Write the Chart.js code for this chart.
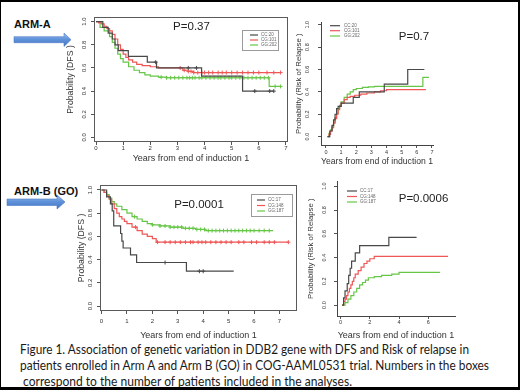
<!DOCTYPE html>
<html>
<head>
<meta charset="utf-8">
<script src="https://cdn.jsdelivr.net/npm/chart.js@4.4.0/dist/chart.umd.min.js"></script>
<style>
  html, body { margin: 0; padding: 0; background: #fff; }
  #page { position: relative; width: 520px; height: 390px; overflow: hidden; background: #fff;
          font-family: "Liberation Sans", Arial, sans-serif; }
  #page canvas { position: absolute; }
  .txt { position: absolute; white-space: nowrap; transform-origin: left center; }
  .arm { font-weight: bold; font-size: 11px; line-height: 13px; color: #111; }
  .pval { font-size: 11.5px; line-height: 14px; color: #222; transform: translate(-50%, -50%); }
  .cap { font-family: Lato, "Open Sans", sans-serif; font-size: 12.5px; line-height: 15px; color: #1a1a1a; }
  #frame { position: absolute; left: 0; top: 0; width: 520px; height: 390px; box-sizing: border-box;
           border: solid #000; border-width: 2px 2px 3px 1px; pointer-events: none; }
</style>
</head>
<body>
<div id="page">
  <svg width="520" height="390" style="position:absolute;left:0;top:0">
    <defs>
      <linearGradient id="blue" x1="0" y1="0" x2="0" y2="1">
        <stop offset="0" stop-color="#a3c4ef"/>
        <stop offset="0.45" stop-color="#5f93da"/>
        <stop offset="1" stop-color="#4676c4"/>
      </linearGradient>
    </defs>
    <polygon points="14,36.7 64,36.7 64,33 71,39.7 64,46.5 64,42.7 14,42.7" fill="url(#blue)" stroke="#4a7bc4" stroke-width="0.6"/>
    <polygon points="7,199 57,199 57,195 65,202 57,209 57,205.5 7,205.5" fill="url(#blue)" stroke="#4a7bc4" stroke-width="0.6"/>
  </svg>
  <div class="txt arm" style="left:14px;top:18px">ARM-A</div>
  <div class="txt arm" style="left:14px;top:185px">ARM-B (GO)</div>
  <div id="frame"></div>
</div>
<script>
// genotype colours and labels
const genotypeColors = ['#484848', '#ef5656', '#66c646'];
const legendArmA = ['CC:20', 'CG:101', 'GG:202'];
const legendArmB = ['CC:17', 'CG:148', 'GG:187'];
const pValues = ['P=0.37', 'P=0.7', 'P=0.0001', 'P=0.0006'];

// tick labels
const yearTicks = [0, 1, 2, 3, 4, 5, 6, 7];
const yearTicksWide = [0, 2, 4, 6];
const probTicks = [0, 0.2, 0.4, 0.6, 0.8, 1.0];

// Arm A, disease free survival
const dfsA_t_CC = [0, 0.25, 0.45, 0.6, 0.7, 0.82, 1.19, 1.89, 2.23, 3.89, 5.4, 6.55];
const dfsA_s_CC = [1, 0.95, 0.9, 0.85, 0.8, 0.75, 0.7, 0.65, 0.6, 0.53, 0.4, 0.4];
const dfsA_c_CC = [2.2, 3.4, 3.7, 5.85, 6.4, 6.55];
const dfsA_t_CG = [0, 0.1, 0.2, 0.3, 0.4, 0.5, 0.6, 0.7, 0.8, 0.9, 1.0, 1.1, 1.2, 1.35, 1.5, 1.7, 2.0, 2.3, 3.2, 3.4, 3.6, 6.8];
const dfsA_s_CG = [1, 0.99, 0.98, 0.96, 0.94, 0.92, 0.89, 0.85, 0.8, 0.76, 0.72, 0.69, 0.67, 0.65, 0.63, 0.62, 0.61, 0.6, 0.58, 0.57, 0.56, 0.56];
const dfsA_c_CG = [3.1, 3.25, 3.4, 3.5, 3.6, 3.75, 3.9, 4.0, 4.15, 4.3, 4.5, 4.65, 4.8, 5.0, 5.2, 5.4, 5.6, 5.8, 6.0, 6.3, 6.55, 6.8];
const dfsA_t_GG = [0, 0.15, 0.3, 0.5, 0.6, 0.7, 0.8, 0.9, 1.0, 1.2, 1.4, 1.6, 1.8, 2.0, 2.3, 2.6, 6.38, 6.8];
const dfsA_s_GG = [1, 0.95, 0.92, 0.87, 0.82, 0.77, 0.72, 0.68, 0.65, 0.61, 0.58, 0.56, 0.54, 0.53, 0.52, 0.515, 0.44, 0.44];
const dfsA_c_GG = [2.4, 2.6, 2.75, 2.9, 3.05, 3.2, 3.35, 3.45, 3.55, 3.65, 3.8, 3.9, 4.05, 4.2, 4.35, 4.5, 4.6, 4.75, 4.9, 5.0, 5.15, 5.3, 5.45, 5.6, 5.75, 5.9, 6.05, 6.2, 6.35, 6.6, 6.8];

// Arm A, risk of relapse
const relA_t_CC = [0.1, 0.25, 0.4, 0.5, 0.6, 0.7, 0.8, 1.0, 1.8, 2.2, 3.85, 5.4, 6.5];
const relA_s_CC = [0, 0.05, 0.1, 0.15, 0.2, 0.25, 0.27, 0.3, 0.35, 0.4, 0.47, 0.6, 0.6];
const relA_t_CG = [0.1, 0.2, 0.3, 0.4, 0.5, 0.6, 0.7, 0.8, 0.9, 1.0, 1.2, 1.4, 1.6, 1.9, 2.3, 2.7, 3.2, 3.6, 4.0, 6.6];
const relA_s_CG = [0, 0.02, 0.05, 0.08, 0.12, 0.16, 0.2, 0.24, 0.27, 0.3, 0.33, 0.35, 0.36, 0.37, 0.38, 0.39, 0.4, 0.41, 0.42, 0.42];
const relA_t_GG = [0.1, 0.2, 0.3, 0.4, 0.5, 0.6, 0.7, 0.8, 0.9, 1.0, 1.2, 1.4, 1.6, 1.8, 2.0, 2.4, 2.8, 3.2, 6.4, 6.8];
const relA_s_GG = [0, 0.03, 0.06, 0.09, 0.13, 0.17, 0.21, 0.25, 0.28, 0.31, 0.35, 0.38, 0.4, 0.42, 0.43, 0.44, 0.445, 0.45, 0.53, 0.53];

// Arm B (GO), disease free survival
const dfsB_t_CC = [0, 0.2, 0.35, 0.42, 0.48, 0.75, 0.8, 0.85, 1.14, 1.38, 3.34, 5.2];
const dfsB_s_CC = [1, 0.94, 0.88, 0.82, 0.69, 0.625, 0.56, 0.5, 0.44, 0.375, 0.3, 0.3];
const dfsB_c_CC = [2.5, 3.85, 4.0];
const dfsB_t_CG = [0, 0.1, 0.2, 0.3, 0.4, 0.5, 0.6, 0.7, 0.8, 0.9, 1.0, 1.2, 1.4, 1.6, 1.8, 2.0, 2.15, 7.35];
const dfsB_s_CG = [1, 0.98, 0.95, 0.92, 0.88, 0.84, 0.8, 0.77, 0.75, 0.73, 0.71, 0.68, 0.65, 0.62, 0.6, 0.58, 0.55, 0.55];
const dfsB_c_CG = [1.34, 2.2, 2.5, 2.7, 2.9, 3.1, 3.3, 3.5, 3.6, 3.8, 3.95, 4.1, 4.3, 4.5, 4.7, 4.9, 5.1, 5.4, 5.6, 5.9, 6.1, 6.4, 6.6, 6.8, 7.35];
const dfsB_t_GG = [0, 0.1, 0.2, 0.3, 0.4, 0.5, 0.6, 0.8, 1.0, 1.2, 1.4, 1.6, 1.8, 2.0, 2.3, 2.7, 3.2, 3.7, 4.1, 6.75];
const dfsB_s_GG = [1, 0.98, 0.96, 0.93, 0.9, 0.88, 0.86, 0.83, 0.8, 0.77, 0.75, 0.73, 0.71, 0.7, 0.69, 0.68, 0.67, 0.66, 0.65, 0.65];
const dfsB_c_GG = [1.3, 2.0, 2.3, 2.5, 2.7, 2.85, 3.0, 3.15, 3.3, 3.45, 3.6, 3.75, 3.9, 4.05, 4.2, 4.35, 4.5, 4.65, 4.8, 4.95, 5.1, 5.25, 5.4, 5.55, 5.7, 5.85, 6.0, 6.2, 6.4, 6.6];

// Arm B (GO), risk of relapse
const relB_t_CC = [0.1, 0.2, 0.3, 0.45, 0.55, 0.65, 0.75, 1.0, 1.3, 3.3, 5.2];
const relB_s_CC = [0, 0.06, 0.12, 0.18, 0.25, 0.31, 0.37, 0.44, 0.5, 0.57, 0.57];
const relB_t_CG = [0.1, 0.2, 0.3, 0.4, 0.5, 0.6, 0.7, 0.8, 0.9, 1.0, 1.2, 1.4, 1.6, 1.8, 2.0, 2.3, 7.35];
const relB_s_CG = [0, 0.03, 0.05, 0.08, 0.11, 0.14, 0.17, 0.2, 0.23, 0.26, 0.29, 0.32, 0.35, 0.37, 0.39, 0.41, 0.41];
const relB_t_GG = [0.1, 0.3, 0.5, 0.7, 0.9, 1.1, 1.3, 1.5, 1.7, 1.9, 2.3, 2.8, 3.5, 4.0, 6.8];
const relB_s_GG = [0, 0.02, 0.05, 0.08, 0.11, 0.14, 0.17, 0.19, 0.21, 0.23, 0.24, 0.25, 0.26, 0.275, 0.275];

const captionLines = [
  'Figure 1. Association of genetic variation in DDB2 gene with DFS and Risk of relapse in',
  'patients enrolled in Arm A and Arm B (GO) in COG-AAML0531 trial. Numbers in the boxes',
  ' correspond to the number of patients included in the analyses.'
];

const FONT = '"Liberation Sans", Arial, sans-serif';
const page = document.getElementById('page');
const frame = document.getElementById('frame');

function stepAt(ts, ss, x) {
  let v = ss[0];
  for (let i = 0; i < ts.length; i++) if (ts[i] <= x) v = ss[i];
  return v;
}

function makePanel(p) {
  const padTop = 8, padRight = 8;
  const left = p.box[0] - p.yw, top = p.box[1] - padTop;
  const cv = document.createElement('canvas');
  cv.width = p.box[2] - p.box[0] + p.yw + padRight;
  cv.height = p.box[3] - p.box[1] + p.xh + padTop;
  cv.style.left = left + 'px';
  cv.style.top = top + 'px';
  page.insertBefore(cv, frame);

  const datasets = [];
  p.series.forEach((s, i) => {
    datasets.push({
      label: p.legend[i],
      data: s.t.map((x, j) => ({ x, y: s.s[j] })),
      stepped: true, borderColor: genotypeColors[i], borderWidth: 1.2,
      pointRadius: 0, fill: false
    });
  });
  p.series.forEach((s, i) => {
    if (!s.c) return;
    datasets.push({
      data: s.c.map(x => ({ x, y: stepAt(s.t, s.s, x) })),
      showLine: false, pointStyle: 'cross', pointRadius: 2,
      borderColor: genotypeColors[i], borderWidth: 1
    });
  });

  // box round the plot, legend inside it
  const decor = {
    id: 'decor',
    afterDatasetsDraw(chart) {
      const ctx = chart.ctx, a = chart.chartArea;
      ctx.save();
      if (p.fullBox) {
        ctx.strokeStyle = '#5a5a5a';
        ctx.lineWidth = 1;
        ctx.strokeRect(Math.round(a.left) + 0.5, Math.round(a.top) + 0.5,
                       Math.round(a.right - a.left) - 1, Math.round(a.bottom - a.top) - 1);
      }
      const lg = p.legendPos;
      if (lg.frame) {
        ctx.strokeStyle = '#9a9a9a';
        ctx.lineWidth = 1;
        ctx.strokeRect(lg.frame[0] - left + 0.5, lg.frame[1] - top + 0.5,
                       lg.frame[2] - lg.frame[0], lg.frame[3] - lg.frame[1]);
      }
      ctx.font = '4.5px ' + FONT;
      ctx.textBaseline = 'middle';
      ctx.fillStyle = '#666';
      chart.data.datasets.filter(d => d.label).forEach((d, i) => {
        const y = lg.ys[i] - top;
        ctx.strokeStyle = d.borderColor;
        ctx.lineWidth = 1.2;
        ctx.beginPath();
        ctx.moveTo(lg.x0 - left, y);
        ctx.lineTo(lg.x1 - left, y);
        ctx.stroke();
        ctx.fillText(d.label, lg.tx - left, y);
      });
      ctx.restore();
    }
  };

  new Chart(cv, {
    type: 'line',
    data: { datasets },
    plugins: [decor],
    options: {
      responsive: false, animation: false, events: [],
      layout: { padding: { top: padTop, right: padRight, left: 0, bottom: 0 } },
      plugins: { legend: { display: false }, tooltip: { enabled: false } },
      scales: {
        x: {
          type: 'linear', min: p.xr[0], max: p.xr[1],
          afterBuildTicks: s => { s.ticks = p.xTicks.map(v => ({ value: v })); },
          afterFit: s => { s.height = p.xh; },
          ticks: { font: { size: p.tick, family: FONT }, color: '#333', padding: p.xPad,
                   autoSkip: false, minRotation: 0, maxRotation: 0, callback: v => String(v) },
          grid: { display: true, drawOnChartArea: false, drawTicks: true, tickLength: 3, tickColor: '#555' },
          border: { display: !p.fullBox, color: '#444', width: 1 },
          title: { display: true, text: 'Years from end of induction 1', color: '#333', padding: 0,
                   font: { size: 9, family: FONT } }
        },
        y: {
          type: 'linear', min: p.yr[0], max: p.yr[1],
          afterBuildTicks: s => { s.ticks = probTicks.map(v => ({ value: v })); },
          afterFit: s => { s.width = p.yw; },
          ticks: { font: { size: p.tick, family: FONT }, color: '#333', padding: p.yPad,
                   minRotation: 90, maxRotation: 90, crossAlign: 'center', autoSkip: false,
                   callback: v => v.toFixed(1) },
          grid: { display: true, drawOnChartArea: false, drawTicks: true, tickLength: 3, tickColor: '#555' },
          border: { display: !p.fullBox, color: '#444', width: 1 },
          title: { display: true, text: p.yTitle, color: '#333', padding: 0,
                   font: { size: p.yTitleSize, family: FONT } }
        }
      }
    }
  });
}

makePanel({
  box: [94, 17, 288, 142], xr: [-0.074, 7.074], yr: [-0.04, 1.04], yw: 29, xh: 22,
  xTicks: yearTicks, tick: 6, xPad: 0, yPad: 2, fullBox: true,
  yTitle: 'Probability (DFS )', yTitleSize: 8.7, legend: legendArmA,
  legendPos: { frame: [242, 30, 278, 50], x0: 250, x1: 258, tx: 261, ys: [35, 40, 45] },
  series: [
    { t: dfsA_t_CC, s: dfsA_s_CC, c: dfsA_c_CC },
    { t: dfsA_t_CG, s: dfsA_s_CG, c: dfsA_c_CG },
    { t: dfsA_t_GG, s: dfsA_s_GG, c: dfsA_c_GG }
  ]
});

makePanel({
  box: [321, 20, 433, 145], xr: [-0.33, 7.07], yr: [-0.075, 1.022], yw: 27, xh: 22,
  xTicks: yearTicks, tick: 5.5, xPad: 1, yPad: 7, fullBox: false,
  yTitle: 'Probability (Risk of Relapse )', yTitleSize: 7.8, legend: legendArmA,
  legendPos: { x0: 330, x1: 340, tx: 344, ys: [25.7, 30.7, 36] },
  series: [
    { t: relA_t_CC, s: relA_s_CC },
    { t: relA_t_CG, s: relA_s_CG },
    { t: relA_t_GG, s: relA_s_GG }
  ]
});

makePanel({
  box: [100, 185, 297, 311], xr: [-0.06, 7.69], yr: [-0.043, 1.043], yw: 24, xh: 30,
  xTicks: yearTicks, tick: 6, xPad: 4, yPad: 2, fullBox: true,
  yTitle: 'Probability (DFS )', yTitleSize: 8.7, legend: legendArmB,
  legendPos: { frame: [251, 194, 292, 216], x0: 257, x1: 265, tx: 268, ys: [200, 205.5, 211] },
  series: [
    { t: dfsB_t_CC, s: dfsB_s_CC, c: dfsB_c_CC },
    { t: dfsB_t_CG, s: dfsB_s_CG, c: dfsB_c_CG },
    { t: dfsB_t_GG, s: dfsB_s_GG, c: dfsB_c_GG }
  ]
});

makePanel({
  box: [337, 180, 455, 316], xr: [-0.25, 7.83], yr: [-0.092, 1.042], yw: 31, xh: 25,
  xTicks: yearTicksWide, tick: 5.5, xPad: 0, yPad: 6, fullBox: false,
  yTitle: 'Probability (Risk of Relapse )', yTitleSize: 7.8, legend: legendArmB,
  legendPos: { x0: 347, x1: 357, tx: 360, ys: [191, 196.5, 202] },
  series: [
    { t: relB_t_CC, s: relB_s_CC },
    { t: relB_t_CG, s: relB_s_CG },
    { t: relB_t_GG, s: relB_s_GG }
  ]
});

// p-values, centred where they sit in the figure
[[191.5, 26], [414, 36], [199, 204], [423.5, 198]].forEach((pos, i) => {
  const d = document.createElement('div');
  d.className = 'txt pval';
  d.style.left = pos[0] + 'px';
  d.style.top = pos[1] + 'px';
  d.textContent = pValues[i];
  page.insertBefore(d, frame);
});

// caption, each line stretched to its width in the figure
const capLayout = [[20, 341.5, 449], [20, 357.5, 469], [20, 373.5, 332]];
captionLines.forEach((line, i) => {
  const d = document.createElement('div');
  d.className = 'txt cap';
  d.style.left = capLayout[i][0] + 'px';
  d.style.top = capLayout[i][1] + 'px';
  d.style.whiteSpace = 'pre';
  d.dataset.w = capLayout[i][2];
  d.textContent = line;
  page.insertBefore(d, frame);
});

function fitWidths() {
  document.querySelectorAll('[data-w]').forEach(el => {
    el.style.transform = 'none';
    const w = el.getBoundingClientRect().width;
    if (w > 0) el.style.transform = 'scaleX(' + (el.dataset.w / w) + ')';
  });
}
fitWidths();
if (document.fonts) document.fonts.ready.then(fitWidths);
</script>
</body>
</html>
